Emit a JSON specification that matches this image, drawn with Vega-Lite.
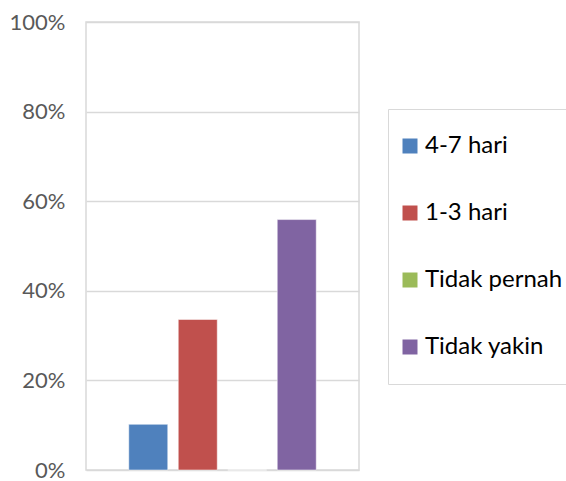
{
  "$schema": "https://vega.github.io/schema/vega-lite/v6.json",
  "width": 273,
  "height": 448,
  "autosize": {"type": "none"},
  "padding": {"left": 86, "top": 22, "right": 207, "bottom": 11},
  "background": "white",
  "config": {
    "view": {"stroke": "#d9d9d9", "strokeWidth": 1.5},
    "font": "Lato"
  },
  "data": {
    "values": [
      {"kategori": "4-7 hari", "persen": 0.102},
      {"kategori": "1-3 hari", "persen": 0.336},
      {"kategori": "Tidak pernah", "persen": 0},
      {"kategori": "Tidak yakin", "persen": 0.559}
    ]
  },
  "mark": {"type": "bar", "stroke": "white", "strokeOpacity": 0.5, "strokeWidth": 1},
  "encoding": {
    "x": {
      "field": "kategori",
      "type": "nominal",
      "sort": ["4-7 hari", "1-3 hari", "Tidak pernah", "Tidak yakin"],
      "scale": {"paddingInner": 0.212, "paddingOuter": 0.864},
      "axis": null
    },
    "y": {
      "field": "persen",
      "type": "quantitative",
      "scale": {"domain": [0, 1], "nice": false},
      "axis": {
        "values": [0, 0.2, 0.4, 0.6, 0.8, 1],
        "format": ".0%",
        "title": null,
        "domain": false,
        "ticks": false,
        "labelPadding": 21,
        "labelFontSize": 22,
        "labelColor": "#595959",
        "labelFont": "Lato",
        "gridColor": "#d9d9d9",
        "gridWidth": 1.5
      }
    },
    "color": {
      "field": "kategori",
      "type": "nominal",
      "sort": ["4-7 hari", "1-3 hari", "Tidak pernah", "Tidak yakin"],
      "scale": {
        "domain": ["4-7 hari", "1-3 hari", "Tidak pernah", "Tidak yakin"],
        "range": ["#4f81bd", "#c0504d", "#9bbb59", "#8064a2"]
      },
      "legend": {
        "title": null,
        "orient": "none",
        "legendX": 302,
        "legendY": 87,
        "strokeColor": "#d9d9d9",
        "padding": 25,
        "symbolType": "square",
        "symbolSize": 225,
        "symbolStrokeWidth": 0,
        "symbolOpacity": 1,
        "symbolOffset": -15,
        "labelFontSize": 24,
        "labelFont": "Lato",
        "labelColor": "#000000",
        "labelOffset": 3,
        "rowPadding": 43,
        "labelLimit": 300
      }
    }
  }
}
